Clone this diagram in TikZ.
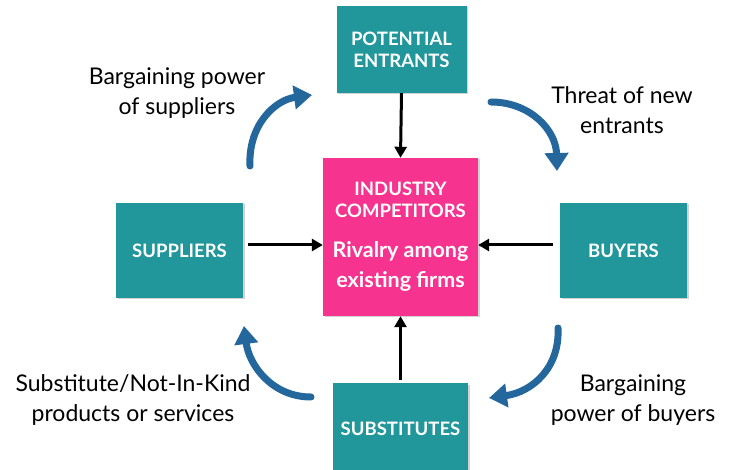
\documentclass[tikz,border=0pt]{standalone}
\usepackage{fontspec}
\setmainfont{Lato}
\usetikzlibrary{arrows.meta,shadows}
\definecolor{tealbox}{HTML}{21979B}
\definecolor{pinkbox}{HTML}{F6338F}
\definecolor{arcblue}{HTML}{23679D}
\begin{document}
\begin{tikzpicture}[x=1pt,y=-1pt,
  box/.style={fill=tealbox, text=white, font=\fontsize{18.5}{22}\selectfont\bfseries, align=center, inner sep=0pt, drop shadow={shadow xshift=1.5pt, shadow yshift=-1.5pt, opacity=0.35}},
  blk/.style={line width=3pt, -{Triangle[length=11pt,width=12pt]}},
  arc/.style={line width=7pt, arcblue, line cap=round, -{Triangle[length=18pt,width=23pt]}},
  lbl/.style={font=\fontsize{23}{29.5}\selectfont, align=center}]
\useasboundingbox (0,0) rectangle (731,470);
\fill[white] (0,0) rectangle (731,470);
\node[box, minimum width=130pt, minimum height=87pt] (pot) at (401.5,49.5) {POTENTIAL\\ENTRANTS};
\node[box, fill=pinkbox, minimum width=155pt, minimum height=158pt] (ind) at (400.5,237) {INDUSTRY\\COMPETITORS\\[18pt]{\fontsize{21.5}{30}\selectfont Rivalry among}\\[8pt]{\fontsize{21.5}{30}\selectfont existing firms}};
\node[box, minimum width=127pt, minimum height=95pt] (sup) at (179.5,250.5) {SUPPLIERS};
\node[box, minimum width=127pt, minimum height=95pt] (buy) at (623.5,250.5) {BUYERS};
\node[box, minimum width=135pt, minimum height=92pt] (sub) at (400.5,429) {SUBSTITUTES};
\draw[blk] (pot.south) -- (ind.north);
\draw[blk] (sub.north) ++(0,-3) -- (ind.south);
\coordinate (s1) at (248,245);
\coordinate (b1) at (553,245);
\draw[blk] (s1) -- (ind.west |- s1);
\draw[blk] (b1) -- (ind.east |- b1);
\coordinate (a1) at (250,166);
\coordinate (a2) at (312,95);
\draw[arc] (a1) .. controls (248,125) and (275,100) .. (a2);
\coordinate (c1) at (491,102);
\coordinate (c2) at (557,171);
\draw[arc] (c1) .. controls (530,102) and (556,130) .. (c2);
\coordinate (d1) at (311,397);
\coordinate (d2) at (244,326);
\draw[arc] (d1) .. controls (272,397) and (249,365) .. (d2);
\coordinate (e1) at (558,328);
\coordinate (e2) at (489,398);
\draw[arc] (e1) .. controls (560,368) and (532,392) .. (e2);
\node[lbl] (l1) at (177,93) {Bargaining power\\of suppliers};
\node[lbl] (l2) at (622,110) {Threat of new\\entrants};
\node[lbl] (l3) at (133,400) {Substitute/Not-In-Kind\\products or services};
\node[lbl] (l4) at (633,400) {Bargaining\\power of buyers};
\end{tikzpicture}
\end{document}
